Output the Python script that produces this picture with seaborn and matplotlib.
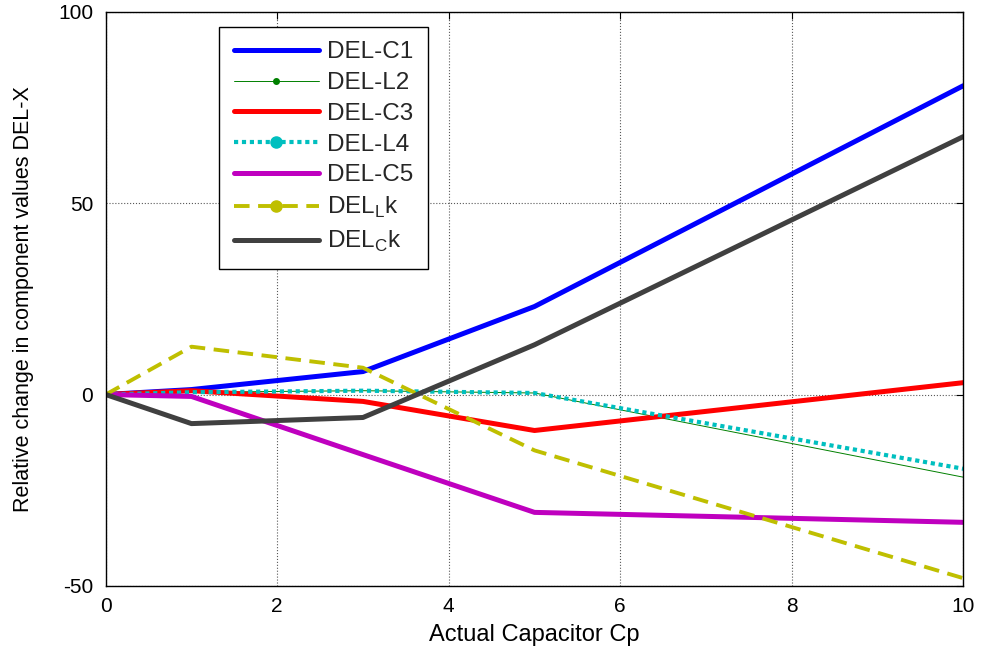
import matplotlib
matplotlib.use("Agg")
import matplotlib.pyplot as plt
from matplotlib.lines import Line2D
import numpy as np
import pandas as pd
import seaborn as sns

# Capacitor values at which the component deviations were evaluated
cp = [0, 1, 3, 5, 10]

del_c1 = [0, 1.3, 6.0, 23.0, 80.7]
del_l2 = [0, 0.6, 1.0, 0.4, -21.6]
del_c3 = [0, 1.0, -1.8, -9.4, 3.1]
del_l4 = [0, 0.6, 1.0, 0.4, -19.4]
del_c5 = [0, -0.5, -15.7, -30.8, -33.4]
del_lk = [0, 12.5, 7.0, -14.6, -48.0]
del_ck = [0, -7.6, -6.0, 13.0, 67.4]

labels = ["DEL-C1", "DEL-L2", "DEL-C3", "DEL-L4", "DEL-C5",
          r"DEL$_{\mathregular{L}}$k", r"DEL$_{\mathregular{C}}$k"]
series = [del_c1, del_l2, del_c3, del_l4, del_c5, del_lk, del_ck]

x_ticks = [0, 2, 4, 6, 8, 10]
y_ticks = [-50, 0, 50, 100]

sns.set_theme(style="white")
plt.rcParams["font.family"] = ["Liberation Sans", "DejaVu Sans"]
plt.rcParams["mathtext.fontset"] = "custom"
plt.rcParams["mathtext.rm"] = "Liberation Sans"
plt.rcParams["axes.unicode_minus"] = False

styles = [
    dict(color="#0000ff", lw=3.6, ls="-", marker=None, ms=0),
    dict(color="#008000", lw=0.7, ls="-", marker="o", ms=4),
    dict(color="#ff0000", lw=3.6, ls="-", marker=None, ms=0),
    dict(color="#00bfbf", lw=3.0, ls=(0, (1, 0.9)), marker="o", ms=8),
    dict(color="#bf00bf", lw=3.6, ls="-", marker=None, ms=0),
    dict(color="#bfbf00", lw=2.8, ls=(0, (4, 2.2)), marker="o", ms=8),
    dict(color="#404040", lw=3.6, ls="-", marker=None, ms=0),
]

df = pd.DataFrame({"cp": np.tile(cp, len(series)),
                   "value": np.concatenate(series),
                   "name": np.repeat(labels, len(cp))})

fig = plt.figure(figsize=(9.88, 6.59), dpi=100)
ax = fig.add_axes([0.107, 0.111, 0.868, 0.871])

handles = []
for lab, st in zip(labels, styles):
    sub = df[df["name"] == lab]
    sns.lineplot(data=sub, x="cp", y="value", ax=ax, color=st["color"],
                 linewidth=st["lw"], linestyle=st["ls"], legend=False,
                 estimator=None, sort=False)
    if st["marker"]:
        h = Line2D([0, 0.5, 1], [0, 0, 0], color=st["color"], lw=st["lw"],
                   ls=st["ls"], marker=st["marker"], markersize=st["ms"],
                   markevery=[1])
    else:
        h = Line2D([0], [0], color=st["color"], lw=st["lw"], ls=st["ls"])
    handles.append(h)

ax.set_xlim(0, 10)
ax.set_ylim(-50, 100)
ax.set_xticks(x_ticks)
ax.set_yticks(y_ticks)
ax.grid(True, linestyle=":", color="0.35", linewidth=0.8)
for sp in ax.spines.values():
    sp.set_color("black")
    sp.set_linewidth(1.0)
ax.tick_params(direction="in", length=5, width=0.8, top=True, right=True,
               labelsize=15, colors="black")
ax.tick_params(axis="x", pad=8)
ax.tick_params(axis="y", pad=9)
ax.set_xlabel("Actual Capacitor Cp", fontsize=17, color="black", labelpad=6)
ax.set_ylabel("Relative change in component values DEL-X", fontsize=15.5,
              color="black", labelpad=17)

leg = ax.legend(handles, labels, loc="upper left", bbox_to_anchor=(0.132, 0.974),
                borderaxespad=0, fontsize=17.5, frameon=True, fancybox=False,
                framealpha=1, edgecolor="black", handlelength=3.5,
                handletextpad=0.35, labelspacing=0.36, borderpad=0.6)
leg.get_frame().set_linewidth(1.0)

fig.savefig("out.png", dpi=100)
